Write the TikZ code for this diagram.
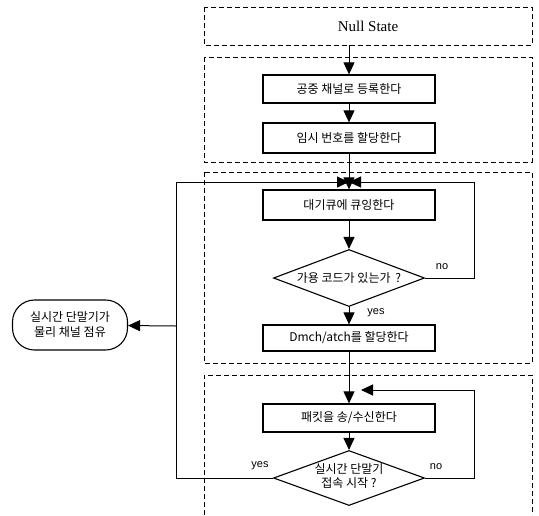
\documentclass[tikz,border=0pt]{standalone}
\usepackage{fontspec}
\setmainfont{Liberation Sans}
\newfontfamily\krfont{Noto Sans CJK KR}
\newfontfamily\statefont{Liberation Serif}
\usepackage{tikz}
\usetikzlibrary{arrows.meta,shapes.geometric}
\tikzset{
    Region/.style = {draw,dash pattern=on 5pt off 3pt,line width=1pt},
    Process/.style = {draw,rectangle,line width=1.3pt,inner sep=0pt,
         minimum width=172pt,minimum height=28pt,
         font=\krfont\fontsize{12}{14}\selectfont},
    Decision/.style = {draw,diamond,line width=1.1pt,inner sep=0pt,
         minimum width=151pt,minimum height=57pt,
         font=\krfont\fontsize{12}{14}\selectfont},
    Terminal/.style = {draw,rectangle,rounded corners=22pt,line width=1.1pt,
         minimum width=115pt,minimum height=50pt,align=center,
         font=\krfont\fontsize{12}{15}\selectfont},
    Flow/.style = {line width=1pt,-{Triangle[length=12pt,width=11pt]}},
    Answer/.style = {font=\fontsize{11}{13}\selectfont}
}
\begin{document}
\begin{tikzpicture}[x=1pt,y=-1pt]
        \useasboundingbox (0,0) rectangle (539,515);
        % dashed state regions
        \foreach \ya/\yb in {7/45,57/162,172/363}
            {\draw[Region] (204,\ya) rectangle (532,\yb);}
        \draw[Region] (204,515) |- (532,375) -- (532,515);
        % nodes
        \node[font=\statefont\fontsize{15}{16}\selectfont,minimum height=38pt] (null) at (368,26) {Null State};
        \node[Process] (reg) at (349,89) {공중 채널로 등록한다};
        \node[Process,minimum height=30pt] (tmp) at (349,138) {임시 번호를 할당한다};
        \node[Process,minimum height=30pt] (queue) at (349,205) {대기큐에 큐잉한다};
        \node[Decision] (avail) at (349,278)
            {\makebox[0pt]{가용 코드가 있는가\hspace{0.4em}?}};
        \node[Process,minimum height=26pt] (alloc) at (349,338) {Dmch/atch를 할당한다};
        \node[Process] (send) at (349,418) {패킷을 송/수신한다};
        \node[Decision,minimum height=55pt] (start) at (349,478)
            {\makebox[0pt]{\begin{tabular}{@{}c@{}}실시간 단말기\\접속 시작 ?\end{tabular}}};
        \node[Terminal] (occupy) at (70,325) {실시간 단말기가\\물리 채널 점유};
        % turning points
        \coordinate (J) at (349,182);
        \coordinate (JR) at (474,182);
        \coordinate (JL) at (176,182);
        \coordinate (K) at (361,390);
        \coordinate (KR) at (474,390);
        \coordinate (B) at (176,326);
        % connectors
        \draw[Flow] (reg.north |- null.south) -- (reg);
        \draw[Flow] (reg) -- (tmp);
        \draw[Flow] (tmp) -- (queue);
        \draw[Flow] (queue) -- (avail);
        \draw[Flow] (avail) -- (alloc);
        \draw[Flow] (alloc) -- (send);
        \draw[Flow] (send) -- (start);
        \draw[Flow] (avail.east) -| (JR) -- (J);
        \draw[Flow] (start.east) -| (KR) -- (K);
        \draw[Flow] (start.west) -| (JL) -- (J);
        \draw[Flow] (B) -- (occupy);
        % answers
        \node[Answer] (no1) at (442,267) {no};
        \node[Answer] (yes1) at (376,313) {yes};
        \node[Answer] (yes2) at (260,466) {yes};
        \node[Answer] (no2) at (436,467) {no};
\end{tikzpicture}
\end{document}
